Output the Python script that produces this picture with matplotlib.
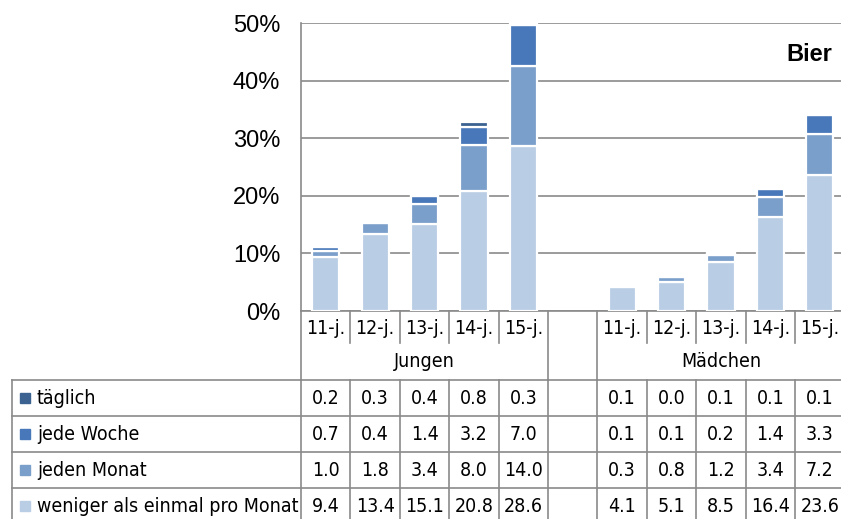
#!/usr/bin/env python3
# Bier: Konsumhaeufigkeit nach Alter und Geschlecht, gestapelte Saeulen mit Datentabelle

import matplotlib
matplotlib.use('Agg')
import matplotlib.pyplot as plt
from matplotlib import font_manager
from matplotlib.transforms import blended_transform_factory
import numpy as np

AGES = ['11-j.', '12-j.', '13-j.', '14-j.', '15-j.']
GROUPS = ['Jungen', 'Mädchen']
SERIES = ['täglich', 'jede Woche', 'jeden Monat', 'weniger als einmal pro Monat']

# Werte in Prozent, Reihenfolge wie SERIES
JUNGEN = [
    [0.2, 0.3, 0.4, 0.8, 0.3],
    [0.7, 0.4, 1.4, 3.2, 7.0],
    [1.0, 1.8, 3.4, 8.0, 14.0],
    [9.4, 13.4, 15.1, 20.8, 28.6],
]
MAEDCHEN = [
    [0.1, 0.0, 0.1, 0.1, 0.1],
    [0.1, 0.1, 0.2, 1.4, 3.3],
    [0.3, 0.8, 1.2, 3.4, 7.2],
    [4.1, 5.1, 8.5, 16.4, 23.6],
]
COLORS = ['#3b6290', '#4878b9', '#7b9fcb', '#b9cde5']
TITLE = 'Bier'

W, H = 841, 519
GRID = '#8a8a8a'

names = {f.name for f in font_manager.fontManager.ttflist}
if 'Liberation Sans Narrow' in names:
    NARROW = dict(family='Liberation Sans Narrow', fontsize=16.5)
else:
    NARROW = dict(family='DejaVu Sans', stretch='condensed', fontsize=14)
plt.rcParams['font.family'] = ['Liberation Sans', 'DejaVu Sans']


def main():
    fig = plt.figure(figsize=(W / 100, H / 100), dpi=100)
    # plot area in pixels: left 301, right ~844, top 23, bottom 311
    ax = fig.add_axes([301 / W, (H - 311) / H, 543.5 / W, 288 / H])
    tab = fig.add_axes([0, 0, 1, 1], facecolor='none')
    tab.set_xlim(0, W)
    tab.set_ylim(H, 0)
    tab.axis('off')

    n = len(AGES)
    xj = np.arange(n)
    xm = np.arange(n) + n + 1
    xs = np.concatenate([xj, xm])
    data = np.hstack([np.array(JUNGEN), np.array(MAEDCHEN)])

    # stacked bars: bottom = "weniger", top = "täglich"
    bottom = np.zeros(len(xs))
    for i in range(len(SERIES) - 1, -1, -1):
        ax.bar(xs, data[i], 0.55, bottom=bottom, color=COLORS[i],
               edgecolor='white', linewidth=1.6, zorder=3)
        bottom += data[i]

    ax.set_xlim(-0.5, 2 * n + 0.5)
    ax.set_ylim(0, 50)
    ax.set_yticks(np.arange(0, 51, 10))
    ax.set_yticklabels([f'{v}%' for v in range(0, 51, 10)], fontsize=17)
    ax.tick_params(axis='y', length=0, pad=15)
    ax.set_xticks([])
    ax.yaxis.grid(True, color=GRID, linewidth=1.2, zorder=0)
    for s in ['top', 'right']:
        ax.spines[s].set_visible(False)
    for s in ['left', 'bottom']:
        ax.spines[s].set_color(GRID)
        ax.spines[s].set_linewidth(1.2)
    ax.text(0.977, 0.89, TITLE, transform=ax.transAxes, ha='right',
            va='center', fontsize=17, fontweight='bold')

    # table below the plot area, columns follow the bar axis
    tr = blended_transform_factory(ax.transData, tab.transData)
    lw = 1.2
    cat_top, cat_bot, grp_bot = 311, 343, 380
    row_h = 36
    rows_y = [grp_bot + k * row_h for k in range(len(SERIES) + 1)]
    x_right = 2 * n + 0.5

    # separators in the category row
    for x in list(xj[:-1] + 0.5) + list(xm[:-1] + 0.5):
        tab.plot([x, x], [cat_top, cat_bot], color=GRID, lw=lw,
                 transform=tr, clip_on=False)
    # gap column borders through header rows
    for x in [-0.5, n - 0.5, n + 0.5, x_right]:
        tab.plot([x, x], [cat_top, grp_bot], color=GRID, lw=lw,
                 transform=tr, clip_on=False)

    for x, lab in zip(xs, AGES + AGES):
        tab.text(x, (cat_top + cat_bot) / 2 + 1, lab, transform=tr,
                 ha='center', va='center', **NARROW)
    tab.text(xj.mean(), (cat_bot + grp_bot) / 2, GROUPS[0], transform=tr,
             ha='center', va='center', **NARROW)
    tab.text(xm.mean(), (cat_bot + grp_bot) / 2, GROUPS[1], transform=tr,
             ha='center', va='center', **NARROW)

    # data rows
    for y in rows_y:
        tab.plot([12, W + 5], [y, y], color=GRID, lw=lw, clip_on=False)
    tab.plot([12, 12], [rows_y[0], rows_y[-1]], color=GRID, lw=lw,
             clip_on=False)
    for x in np.arange(-0.5, x_right + 1, 1.0):
        tab.plot([x, x], [rows_y[0], rows_y[-1]], color=GRID, lw=lw,
                 transform=tr, clip_on=False)
    for i, lab in enumerate(SERIES):
        yc = rows_y[i] + row_h / 2
        tab.plot([25.5], [yc], marker='s', markersize=6.5, color=COLORS[i],
                 linestyle='none')
        tab.text(37, yc, lab, ha='left', va='center', **NARROW)
        for x, v in zip(xs, data[i]):
            tab.text(x, yc, f'{v:.1f}', transform=tr, ha='center',
                     va='center', **NARROW)

    fig.savefig('out.png', dpi=100)


if __name__ == '__main__':
    main()
